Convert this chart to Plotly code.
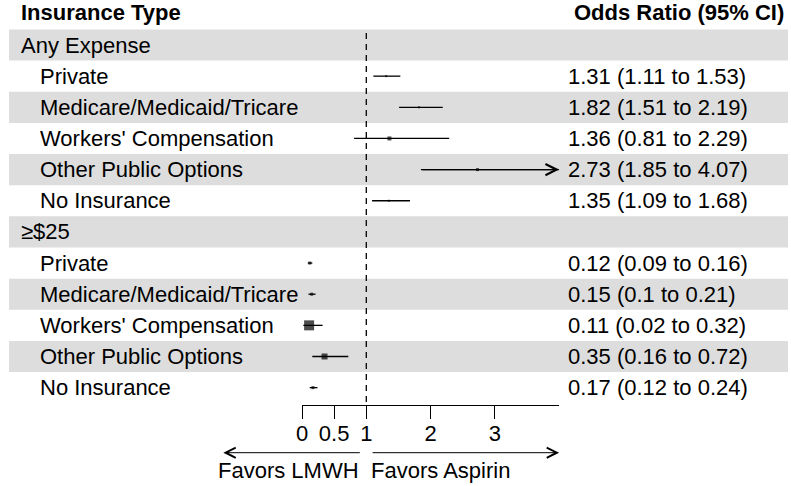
import plotly.graph_objects as go

# ---------------- data ----------------
row_labels = ["Any Expense", "Private", "Medicare/Medicaid/Tricare", "Workers' Compensation",
              "Other Public Options", "No Insurance",
              "≥$25", "Private", "Medicare/Medicaid/Tricare", "Workers' Compensation",
              "Other Public Options", "No Insurance"]
is_group = [True, False, False, False, False, False,
            True, False, False, False, False, False]
odds_ratio = [None, 1.31, 1.82, 1.36, 2.73, 1.35,
              None, 0.12, 0.15, 0.11, 0.35, 0.17]
ci_low = [None, 1.11, 1.51, 0.81, 1.85, 1.09,
          None, 0.09, 0.10, 0.02, 0.16, 0.12]
ci_high = [None, 1.53, 2.19, 2.29, 4.07, 1.68,
           None, 0.16, 0.21, 0.32, 0.72, 0.24]
ci_text = ["", "1.31 (1.11 to 1.53)", "1.82 (1.51 to 2.19)", "1.36 (0.81 to 2.29)",
           "2.73 (1.85 to 4.07)", "1.35 (1.09 to 1.68)",
           "", "0.12 (0.09 to 0.16)", "0.15 (0.1 to 0.21)", "0.11 (0.02 to 0.32)",
           "0.35 (0.16 to 0.72)", "0.17 (0.12 to 0.24)"]
box_size = [0, 2, 2, 4, 3, 2, 0, 3, 3, 10, 6, 3]
tick_vals = [0, 0.5, 1, 2, 3]
tick_text = ["0", "0.5", "1", "2", "3"]
axis_min, axis_max = 0, 4
ref_line = 1

# ---------------- layout constants ----------------
W, H = 791, 486
FONT = "Liberation Sans, Arial, Helvetica, sans-serif"
FS = 22
row_h = 31.15
y_first = 45.0  # pixel center of first row
x0_px, x4_px = 298.3, 557.3
axis_y_px = 405.3

y_top = (0 - y_first) / row_h
y_bot = (H - y_first) / row_h

fig = go.Figure()

shapes = []
for i in range(len(row_labels)):
    if i % 2 == 0:
        shapes.append(dict(type="rect", xref="paper", yref="y", x0=3 / W, x1=788 / W,
                           y0=i - 0.5, y1=i + 0.5, fillcolor="#dddddd",
                           line=dict(width=0), layer="below"))
shapes.append(dict(type="line", xref="x", yref="paper", x0=ref_line, x1=ref_line,
                   y0=(H - 33) / H, y1=(H - axis_y_px) / H,
                   line=dict(color="black", width=1.3, dash="6px,5px")))

xs, ys = [], []
for i, (lo, hi) in enumerate(zip(ci_low, ci_high)):
    if lo is None:
        continue
    xs += [max(lo, axis_min), min(hi, axis_max), None]
    ys += [i, i, None]
fig.add_trace(go.Scatter(x=xs, y=ys, mode="lines", line=dict(color="black", width=1.3),
                         hoverinfo="skip", showlegend=False))

px_, py_, ps_ = [], [], []
for i, v in enumerate(odds_ratio):
    if v is None:
        continue
    px_.append(v); py_.append(i); ps_.append(box_size[i])
fig.add_trace(go.Scatter(x=px_, y=py_, mode="markers",
                         marker=dict(symbol="square", size=ps_, color="black", line=dict(width=0)),
                         showlegend=False))

annotations = []
for i, (lo, hi) in enumerate(zip(ci_low, ci_high)):
    if hi is not None and hi > axis_max:
        annotations.append(dict(x=axis_max, y=i, xref="x", yref="y", axref="x", ayref="y",
                                ax=lo, ay=i, text="", showarrow=True, arrowhead=5,
                                arrowsize=2, arrowwidth=1.1, arrowcolor="black"))

for i, lab in enumerate(row_labels):
    annotations.append(dict(x=(13 if is_group[i] else 32) / W, y=i, xref="paper", yref="y",
                            text=lab, showarrow=False, xanchor="left", yanchor="middle",
                            font=dict(family=FONT, size=FS, color="black")))
    if ci_text[i]:
        annotations.append(dict(x=564 / W, y=i, xref="paper", yref="y",
                                text=ci_text[i], showarrow=False, xanchor="left", yanchor="middle",
                                font=dict(family=FONT, size=FS, color="black")))
annotations.append(dict(x=13 / W, y=-1.05, xref="paper", yref="y", text="<b>Insurance Type</b>",
                        showarrow=False, xanchor="left", yanchor="middle",
                        font=dict(family=FONT, size=FS, color="black")))
annotations.append(dict(x=786 / W, y=-1.05, xref="paper", yref="y", text="<b>Odds Ratio (95% CI)</b>",
                        showarrow=False, xanchor="right", yanchor="middle",
                        font=dict(family=FONT, size=FS, color="black")))

arr_y = (H - 452.7) / H
annotations.append(dict(x=219 / W, y=arr_y, xref="paper", yref="paper", ax=138, ay=0,
                        text="", showarrow=True, arrowhead=5, arrowsize=2, arrowwidth=1,
                        arrowcolor="black"))
annotations.append(dict(x=557.3 / W, y=arr_y, xref="paper", yref="paper", ax=-188, ay=0,
                        text="", showarrow=True, arrowhead=5, arrowsize=2, arrowwidth=1,
                        arrowcolor="black"))
fav_y = (H - 470) / H
annotations.append(dict(x=358 / W, y=fav_y, xref="paper", yref="paper", text="Favors LMWH",
                        showarrow=False, xanchor="right", yanchor="middle",
                        font=dict(family=FONT, size=FS, color="black")))
annotations.append(dict(x=366 / W, y=fav_y, xref="paper", yref="paper", text="Favors Aspirin",
                        showarrow=False, xanchor="left", yanchor="middle",
                        font=dict(family=FONT, size=FS, color="black")))

fig.update_layout(
    width=W, height=H, margin=dict(l=0, r=0, t=0, b=0),
    paper_bgcolor="white", plot_bgcolor="rgba(0,0,0,0)",
    shapes=shapes, annotations=annotations, showlegend=False,
    xaxis=dict(domain=[x0_px / W, x4_px / W], range=[axis_min, axis_max],
               tickvals=tick_vals, ticktext=tick_text, ticks="outside", ticklen=13,
               tickwidth=1, tickcolor="black", showline=True, linecolor="black", linewidth=1,
               showgrid=False, zeroline=False, anchor="free", position=(H - axis_y_px) / H,
               ticklabelstandoff=-5,
               tickfont=dict(family=FONT, size=FS, color="black"), fixedrange=True),
    yaxis=dict(domain=[0, 1], range=[y_bot, y_top], visible=False, fixedrange=True),
)

fig.write_html("out.html", config={"displayModeBar": False},
               post_script="document.body.style.margin='0';document.body.style.overflow='hidden';")
